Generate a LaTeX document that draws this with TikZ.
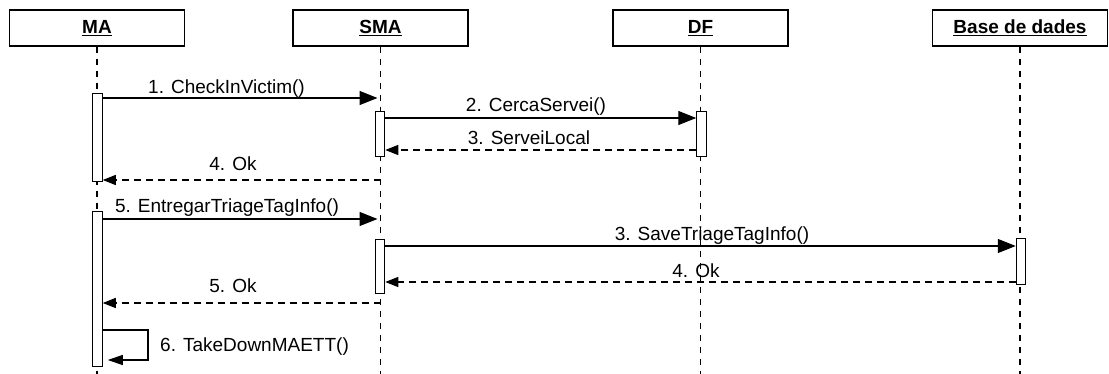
\documentclass[tikz,border=0pt]{standalone}
\usepackage{fontspec}
\setmainfont{Liberation Sans}
\usetikzlibrary{arrows.meta}
\begin{document}
\begin{tikzpicture}[x=1pt,y=-1pt,
  every node/.style={font=\fontsize{19}{22}\selectfont, inner sep=0pt},
  head/.style={draw, line width=1.3pt, minimum width=175pt, minimum height=36pt,
    font=\fontsize{19}{22}\selectfont\bfseries},
  life/.style={line width=1.2pt, dash pattern=on 6pt off 6pt},
  actbar/.style={draw, fill=white, line width=1pt, minimum width=9.5pt, anchor=north},
  call/.style={line width=1.2pt, -{Triangle[length=18pt,width=14pt]}},
  reply/.style={line width=1.2pt, dash pattern=on 7pt off 5pt, -{Triangle[length=13pt,width=10pt]}},
  selfcall/.style={line width=1.2pt, -{Triangle[length=15pt,width=10pt]}},
  lbl/.style={anchor=base}
]
\useasboundingbox (0,0) rectangle (1109,374);

% participants
\node[head] (ma)  at (97,28)    {\underline{MA}};
\node[head] (sma) at (380.5,28) {\underline{SMA}};
\node[head] (df)  at (700.5,28) {\underline{DF}};
\node[head] (bd)  at (1020,28)  {\underline{Base de dades}};

% lifelines
\foreach \p in {ma,sma,df,bd}
  \draw[life] (\p.south) -- (\p.south |- 0,374);

% activation bars
\node[actbar, minimum height=88pt]  (ma1)  at (97.5,93)  {};
\node[actbar, minimum height=45pt]  (sma1) at (380,111)  {};
\node[actbar, minimum height=45pt]  (df1)  at (701.5,111) {};
\node[actbar, minimum height=155pt] (ma2)  at (97.5,211) {};
\node[actbar, minimum height=54pt]  (sma2) at (380,239)  {};
\node[actbar, minimum height=46pt]  (bd1)  at (1021,238) {};

% messages
\draw[call]  (ma1.east |- 0,98)   -- ([xshift=-3pt]sma.south |- 0,98);
\node[lbl] (l1) at (226.5,94) {1. CheckInVictim()};

\draw[call]  (sma1.east |- 0,118) -- (df1.west |- 0,118);
\node[lbl] (l2) at (536,112) {2. CercaServei()};

\draw[reply] (df1.west |- 0,150)  -- (sma1.east |- 0,150);
\node[lbl] (l3) at (529,145) {3. ServeiLocal};

\draw[reply] (sma.south |- 0,180) -- (ma1.east |- 0,180);
\node[lbl] (l4) at (233,171) {4. Ok};

\draw[call]  (ma2.east |- 0,219)  -- ([xshift=-3pt]sma.south |- 0,219);
\node[lbl] (l5) at (227,213) {5. EntregarTriageTagInfo()};

\draw[call]  (sma2.east |- 0,246) -- (bd1.west |- 0,246);
\node[lbl] (l6) at (712,241) {3. SaveTriageTagInfo()};

\draw[reply] (bd1.west |- 0,282)  -- (sma2.east |- 0,282);
\node[lbl] (l7) at (696,278) {4. Ok};

\draw[reply] (sma.south |- 0,303) -- (ma2.east |- 0,303);
\node[lbl] (l8) at (233,293) {5. Ok};

% self call
\coordinate (sc1) at (148,330);
\coordinate (sc2) at (148,360);
\draw[selfcall, shorten >=5pt] (ma2.east |- sc1) -- (sc1) -- (sc2) -- (ma2.east |- sc2);
\node[anchor=base west] (l9) at (160,351) {6. TakeDownMAETT()};
\end{tikzpicture}
\end{document}
